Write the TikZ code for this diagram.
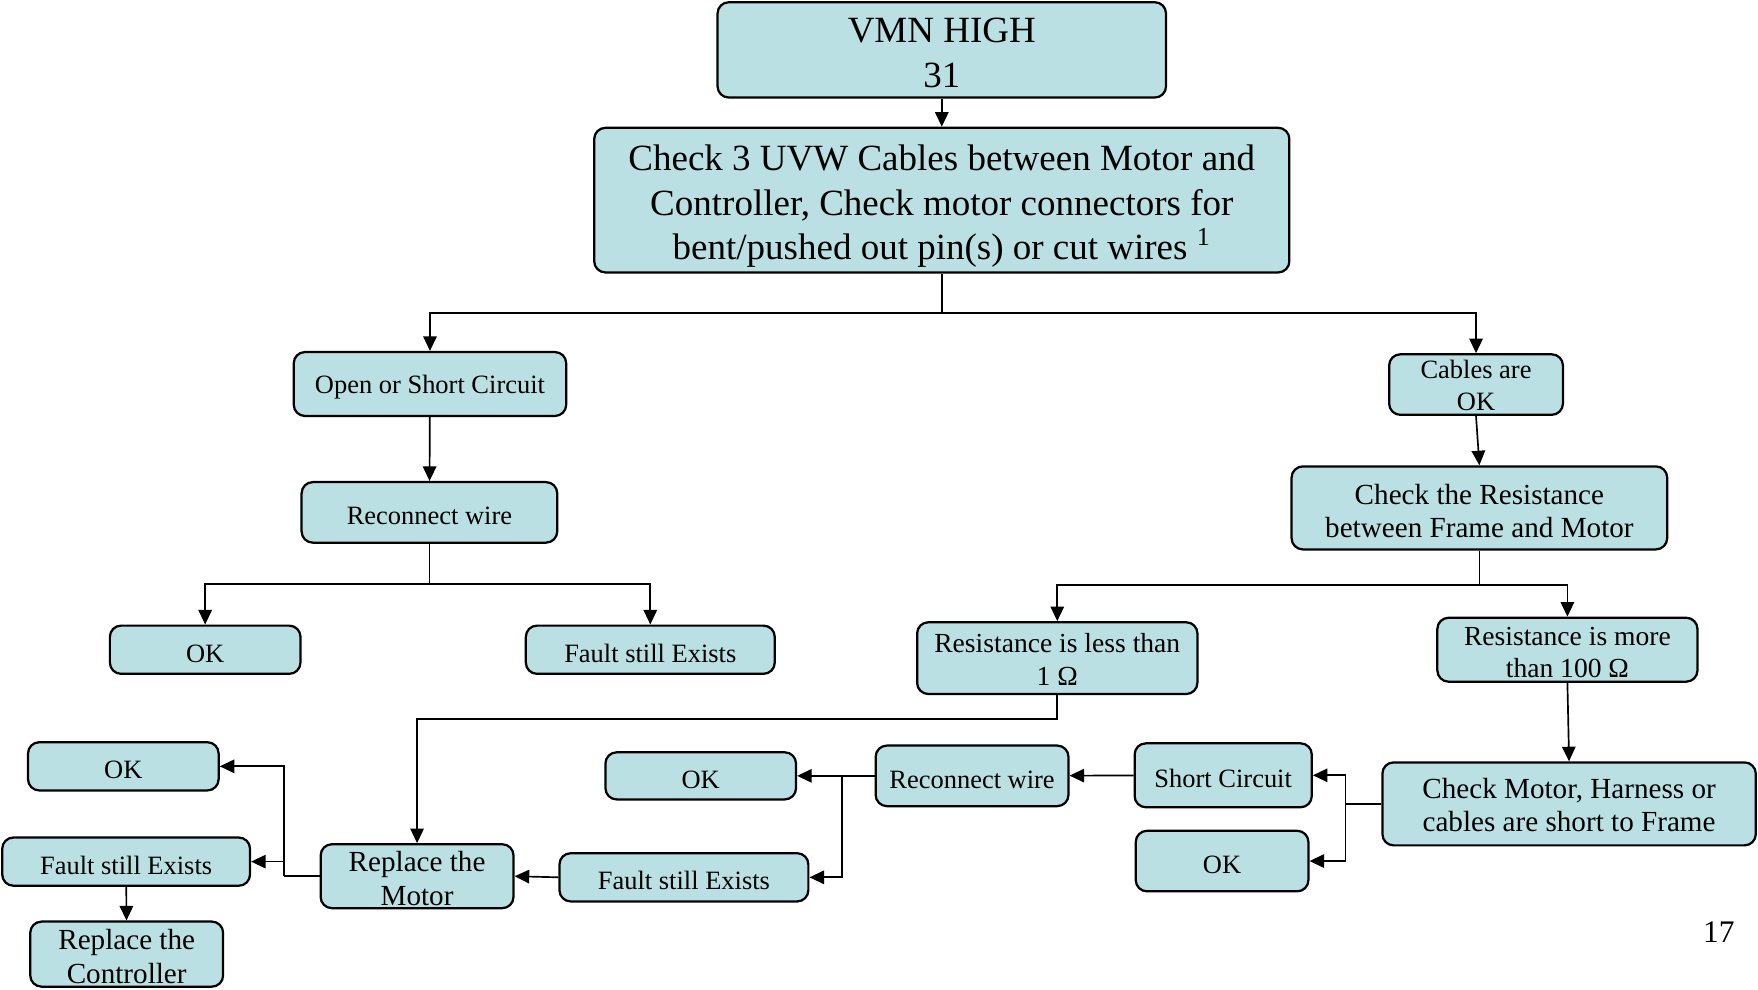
\documentclass[tikz,border=0pt]{standalone}
\usepackage{fontspec}
\setmainfont{Liberation Serif}
\usepackage{tikz}
\usetikzlibrary{positioning,arrows.meta}

\definecolor{boxblue}{RGB}{187,224,227}
\newcommand{\bigtxt}{\fontsize{16.5}{20}\selectfont}
\newcommand{\midtxt}{\fontsize{13}{15}\selectfont}
\newcommand{\restxt}{\fontsize{12.3}{14.5}\selectfont}
\newcommand{\smtxt}{\fontsize{11.8}{14}\selectfont}
\newcommand{\lift}[1]{\rule{0pt}{#1em}}

\begin{document}
\begin{tikzpicture}[x=0.5pt,y=-0.5pt,>={Triangle[length=6.5pt,width=6pt]},
            line width=0.75pt,
            box/.style={draw,fill=boxblue,rounded corners=5pt,line width=1pt,
              inner sep=0pt,align=center,font=\smtxt,
              execute at begin node={\lift{0.95}}}]

            \useasboundingbox (0,0) rectangle (1568,883);

            % top of the chart
            \node[box,font=\bigtxt,minimum width=200pt,minimum height=42.5pt] (vmn) at (840,44.5) {\lift{0.84}VMN HIGH\\31};
            \node[box,font=\bigtxt,minimum width=310pt,minimum height=64.5pt] (check) [below of=vmn,node distance=67pt]
            {\lift{1.02}Check 3 UVW Cables between Motor and\\Controller, Check motor connectors for\\bent/pushed out pin(s) or cut wires \textsuperscript{1}};

            % left branch
            \node[box,minimum width=121.5pt,minimum height=28.5pt] (open) at (383.5,342.5) {Open or Short Circuit};
            \node[box,minimum width=114pt,minimum height=27pt] (rewire1) at (383,457) {Reconnect wire};
            \node[box,minimum width=85pt,minimum height=21.5pt] (ok1) at (183,579.5) {OK};
            \node[box,minimum width=111pt,minimum height=21.5pt] (fault1) at (580,579.5) {Fault still Exists};

            % right branch
            \node[box,minimum width=77.5pt,minimum height=27pt] (cables) at (1316.5,343) {\lift{0.77}Cables are\\OK};
            \node[box,font=\midtxt,minimum width=167.5pt,minimum height=37pt] (resist) at (1319.5,453) {\lift{0.92}Check the Resistance\\between Frame and Motor};
            \node[box,font=\restxt,minimum width=125pt,minimum height=32pt] (less) at (943,587) {\lift{0.77}Resistance is less than\\1 Ω};
            \node[box,font=\restxt,minimum width=116pt,minimum height=28.5pt] (more) at (1398,579.5) {\lift{0.85}Resistance is more\\than 100 Ω};
            \node[box,font=\midtxt,minimum width=166.5pt,minimum height=37pt] (harness) at (1399.5,717) {\lift{0.77}Check Motor, Harness or\\cables are short to Frame};
            \node[box,minimum width=79pt,minimum height=28.5pt] (short) at (1091,691.5) {Short Circuit};
            \node[box,minimum width=77pt,minimum height=27pt] (ok4) at (1090,768) {OK};
            \node[box,minimum width=86pt,minimum height=27pt] (rewire2) at (867,692) {Reconnect wire};
            \node[box,minimum width=85pt,minimum height=21pt] (ok3) at (625,692) {OK};
            \node[box,minimum width=111pt,minimum height=21.5pt] (fault2) at (610,782.5) {Fault still Exists};

            % motor replacement
            \node[box,font=\midtxt,minimum width=86pt,minimum height=28.5pt] (motor) at (372,781.5) {\lift{0.84}Replace the\\Motor};
            \node[box,minimum width=85pt,minimum height=21.5pt] (ok2) at (110,683.5) {OK};
            \node[box,minimum width=110.5pt,minimum height=21.5pt] (fault3) at (112.5,768.5) {Fault still Exists};
            \node[box,font=\midtxt,minimum width=86pt,minimum height=29pt] (ctrl) at (113,851) {\lift{0.84}Replace the\\Controller};

            \node[font=\fontsize{14}{16}\selectfont] (page) at (1533,831) {17};

            % junctions
            \coordinate (j1) at (840,279);
            \coordinate (j3) at (383,521);
            \coordinate (j4) at (1319.5,522);
            \coordinate (j5) at (1200,717);
            \coordinate (j6) at (751,692);
            \coordinate (j7) at (943,641);
            \coordinate (j8) at (253,781.5);

            \draw[->] (vmn) -- (check);
            \draw (check.south) -- (j1);
            \draw[->] (j1) -| (open.north);
            \draw[->] (j1) -| (cables.north);
            \draw[->] (open) -- (rewire1);
            \draw (rewire1.south) -- (j3);
            \draw[->] (j3) -| (ok1.north);
            \draw[->] (j3) -| (fault1.north);
            \draw[->] (cables.south) -- (resist.north);
            \draw (resist.south) -- (j4);
            \draw[->] (j4) -| (less.north);
            \draw[->] (j4) -| (more.north);
            \draw[->] (more.south) -- (harness.north);
            \draw (harness.west) -- (j5);
            \draw[->] (j5) |- (short.east);
            \draw[->] (j5) |- (ok4.east);
            \draw[->] (short) -- (rewire2);
            \draw[->] (rewire2.west) -- (ok3.east);
            \draw[->] (j6) |- (fault2.east);
            \draw[->] (fault2.west) -- (motor.east);
            \draw[->] (less.south) -- (j7) -| (motor.north);
            \draw (motor.west) -- (j8);
            \draw[->] (j8) |- (ok2.east);
            \draw[->] (j8) |- (fault3.east);
            \draw[->] (fault3) -- (ctrl);
          \end{tikzpicture}
\end{document}
